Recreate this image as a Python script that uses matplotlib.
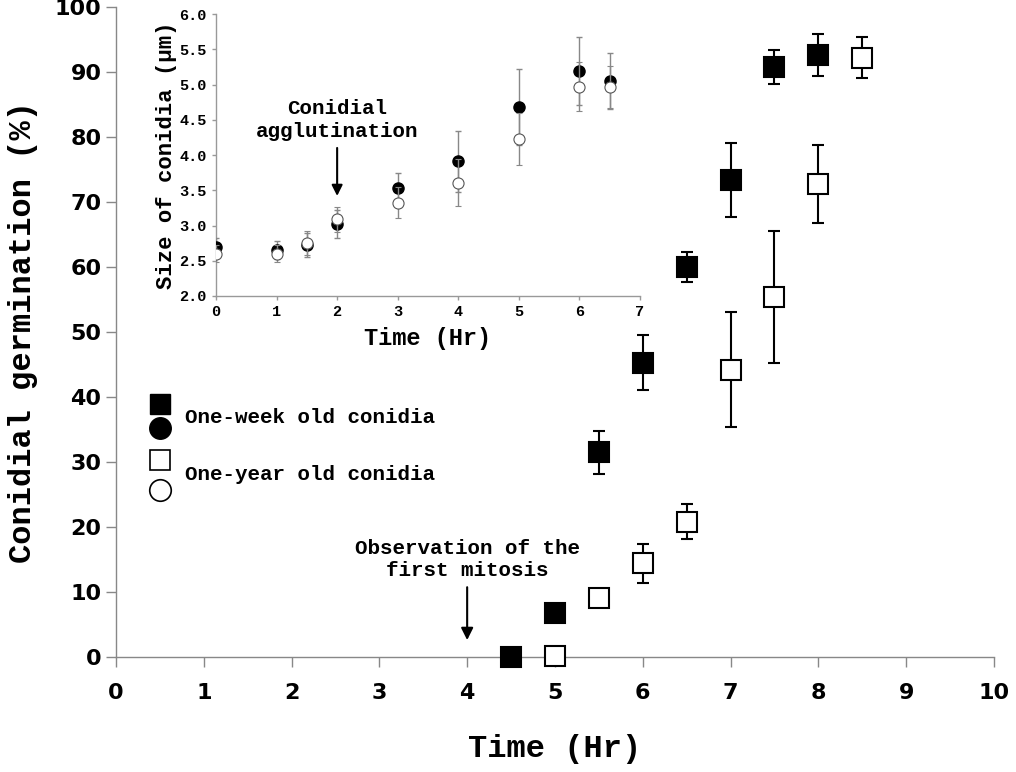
import matplotlib
matplotlib.use("Agg")
import matplotlib.pyplot as plt

mono = "Liberation Mono"

# main panel: germination (%)
week_t = [4.5, 5.0, 5.5, 6.0, 6.5, 7.0, 7.5, 8.0]
week_germ = [0.0, 6.8, 31.5, 45.3, 60.0, 73.4, 90.8, 92.6]
week_err = [0, 0, 3.3, 4.3, 2.3, 5.7, 2.6, 3.2]

year_t = [5.0, 5.5, 6.0, 6.5, 7.0, 7.5, 8.0, 8.5]
year_germ = [0.2, 9.0, 14.4, 20.8, 44.2, 55.4, 72.7, 92.2]
year_err = [0, 0, 3.0, 2.7, 8.8, 10.2, 6.0, 3.2]

# inset: size of conidia (um)
size_t = [0, 1, 1.5, 2, 3, 4, 5, 6, 6.5]
week_size = [2.70, 2.65, 2.72, 3.02, 3.53, 3.91, 4.68, 5.19, 5.05]
week_size_err = [0.12, 0.13, 0.17, 0.20, 0.22, 0.43, 0.54, 0.48, 0.40]
year_size = [2.60, 2.60, 2.75, 3.09, 3.32, 3.61, 4.23, 4.97, 4.97]
year_size_err = [0.12, 0.12, 0.17, 0.18, 0.22, 0.33, 0.37, 0.35, 0.30]

fig = plt.figure(figsize=(10.16, 7.72), dpi=100)
ax = fig.add_axes([0.1142, 0.149, 0.864, 0.842])

ax.errorbar(week_t, week_germ, yerr=week_err, fmt="s", color="black", ms=14.5,
            mfc="black", mec="black", mew=1.5, ecolor="black", elinewidth=1.5,
            capsize=4.5, capthick=1.5, zorder=3, clip_on=False)
ax.errorbar(year_t, year_germ, yerr=year_err, fmt="s", color="black", ms=14.5,
            mfc="white", mec="black", mew=1.5, ecolor="black", elinewidth=1.5,
            capsize=4.5, capthick=1.5, zorder=3, clip_on=False)

ax.set_xlim(0, 10)
ax.set_ylim(0, 100)
ax.set_xticks(range(0, 11))
ax.set_yticks(range(0, 101, 10))
for s in ["top", "right"]:
    ax.spines[s].set_visible(False)
for s in ["left", "bottom"]:
    ax.spines[s].set_color("#888888")
    ax.spines[s].set_linewidth(1)
ax.tick_params(colors="#888888", labelcolor="black", length=7, width=1,
               labelsize=16)
for lab in ax.get_xticklabels() + ax.get_yticklabels():
    lab.set_fontweight("bold")
ax.tick_params(axis="x", pad=12)
ax.set_xlabel("Time (Hr)", fontfamily=mono, fontweight="bold", fontsize=23,
              labelpad=22)
ax.set_ylabel("Conidial germination (%)", fontfamily=mono, fontweight="bold",
              fontsize=23, labelpad=12)

ax.annotate("Observation of the\nfirst mitosis", xy=(4, 2.6), xytext=(4, 11.8),
            ha="center", va="bottom", fontfamily=mono, fontweight="bold",
            fontsize=15, linespacing=1.25,
            arrowprops=dict(arrowstyle="-|>", color="black", lw=1.5,
                            mutation_scale=18, shrinkA=3, shrinkB=0))

# hand-made legend (square over circle)
tr = ax.transAxes
ax.plot([0.05], [0.389], "s", ms=14.5, mfc="black", mec="black", transform=tr, clip_on=False)
ax.plot([0.05], [0.353], "o", ms=15.5, mfc="black", mec="black", transform=tr, clip_on=False)
ax.plot([0.05], [0.303], "s", ms=14.5, mfc="white", mec="black", mew=1.2, transform=tr, clip_on=False)
ax.plot([0.05], [0.257], "o", ms=15.5, mfc="white", mec="black", mew=1.2, transform=tr, clip_on=False)
ax.text(0.079, 0.368, "One-week old conidia", transform=tr, va="center",
        fontfamily=mono, fontweight="bold", fontsize=15)
ax.text(0.079, 0.280, "One-year old conidia", transform=tr, va="center",
        fontfamily=mono, fontweight="bold", fontsize=15)

# inset
ins = fig.add_axes([0.2126, 0.6166, 0.4173, 0.365])
ins.set_facecolor("none")
ins.errorbar(size_t, week_size, yerr=week_size_err, fmt="o", ms=8,
             mfc="black", mec="black", ecolor="#888888", elinewidth=1,
             capsize=2.5, capthick=1, zorder=3)
ins.errorbar(size_t, year_size, yerr=year_size_err, fmt="o", ms=8,
             mfc="white", mec="#555555", mew=0.8, ecolor="#888888",
             elinewidth=1, capsize=2.5, capthick=1, zorder=4)
ins.set_xlim(0, 7)
ins.set_ylim(2.0, 6.0)
ins.set_xticks(range(0, 8))
ins.set_yticks([2.0, 2.5, 3.0, 3.5, 4.0, 4.5, 5.0, 5.5, 6.0])
ins.set_yticklabels(["%.1f" % v for v in ins.get_yticks()])
for s in ["top", "right"]:
    ins.spines[s].set_visible(False)
for s in ["left", "bottom"]:
    ins.spines[s].set_color("#999999")
    ins.spines[s].set_linewidth(1)
ins.tick_params(colors="#999999", labelcolor="black", length=3, width=1,
                labelsize=11)
for lab in ins.get_xticklabels() + ins.get_yticklabels():
    lab.set_fontfamily(mono)
    lab.set_fontweight("bold")
ins.set_xlabel("Time (Hr)", fontfamily=mono, fontweight="bold", fontsize=17,
               labelpad=6)
ins.set_ylabel("Size of conidia (µm)", fontfamily=mono, fontweight="bold",
               fontsize=16, labelpad=2)
ins.annotate("Conidial\nagglutination", xy=(2, 3.42), xytext=(2, 4.2),
             ha="center", va="bottom", fontfamily=mono, fontweight="bold",
             fontsize=15, linespacing=1.25,
             arrowprops=dict(arrowstyle="-|>", color="black", lw=1.5,
                             mutation_scale=16, shrinkA=3, shrinkB=0))

fig.savefig("out.png", dpi=100)
